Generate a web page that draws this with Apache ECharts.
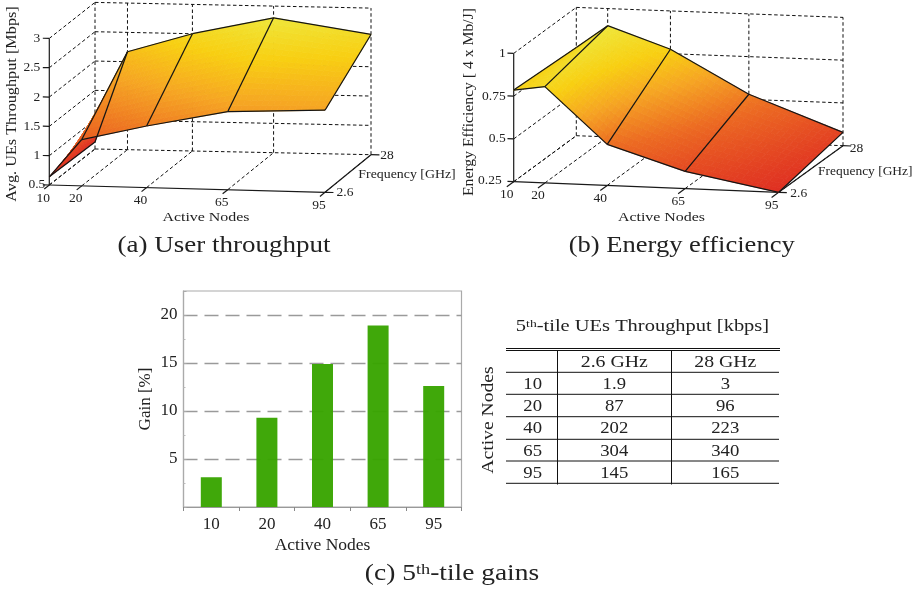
<!DOCTYPE html>
<html><head><meta charset="utf-8">
<style>html,body{margin:0;padding:0;background:#fff}#c{width:917px;height:591px}</style>
<script src="https://cdn.jsdelivr.net/npm/echarts@6/dist/echarts.min.js"></script>
</head><body><div id="c"></div>
<script>
// ---- data ----
const nodes = [10, 20, 40, 65, 95];
const freqs = [2.6, 28];
const throughput26 = [0.64, 1.29, 1.55, 1.83, 1.90];
const throughput28 = [0.62, 2.17, 2.50, 2.80, 2.55];
const efficiency26 = [0.786, 0.813, 0.49, 0.35, 0.25];
const efficiency28 = [0.765, 0.90, 0.776, 0.53, 0.328];
const throughputTicks = [0.5, 1, 1.5, 2, 2.5, 3];
const efficiencyTicks = [0.25, 0.5, 0.75, 1];
const gainCategories = ['10', '20', '40', '65', '95'];
const gainValues = [3.1, 9.3, 14.9, 18.9, 12.6];
const tableNodes = ['10', '20', '40', '65', '95'];
const table26 = ['1.9', '87', '202', '304', '145'];
const table28 = ['3', '96', '223', '340', '165'];
const tableHeader = ['2.6 GHz', '28 GHz'];

// ---- helpers ----
const FONT = '"Liberation Serif", serif';
const INK = '#222';
function txt(text, x, y, size, sx, rot, extra) {
  return {
    type: 'text', x, y, rotation: rot || 0, scaleX: sx || 1, silent: true, z: 50,
    style: Object.assign({ text, x: 0, y: 0, fontFamily: FONT, fontSize: size, fill: INK,
      align: 'center', verticalAlign: 'middle' }, extra || {})
  };
}
function makeProjection(fl, fr, br, bl, height, zMin, zMax) {
  return function (n, f, z) {
    const u = (n - nodes[0]) / (nodes[nodes.length - 1] - nodes[0]);
    const v = (f - freqs[0]) / (freqs[1] - freqs[0]);
    const x = (1 - u) * (1 - v) * fl[0] + u * (1 - v) * fr[0] + u * v * br[0] + (1 - u) * v * bl[0];
    const y = (1 - u) * (1 - v) * fl[1] + u * (1 - v) * fr[1] + u * v * br[1] + (1 - u) * v * bl[1];
    return [x, y - height * (z - zMin) / (zMax - zMin)];
  };
}
const stops = [[0, [223, 47, 34]], [0.35, [236, 106, 34]], [0.6, [246, 166, 35]], [0.8, [248, 207, 18]], [1, [239, 230, 58]]];
function heat(t) {
  t = Math.max(0, Math.min(1, t));
  for (let i = 1; i < stops.length; i++) {
    if (t <= stops[i][0]) {
      const k = (t - stops[i - 1][0]) / (stops[i][0] - stops[i - 1][0]);
      const a = stops[i - 1][1], b = stops[i][1];
      return 'rgb(' + a.map((c, j) => Math.round(c + (b[j] - c) * k)).join(',') + ')';
    }
  }
  return 'rgb(239,230,58)';
}
function surfaceSeries(proj, zFront, zBack, name) {
  const all = zFront.concat(zBack), cMin = Math.min(...all), cMax = Math.max(...all);
  const cells = [];
  for (let i = 0; i < nodes.length - 1; i++) cells.push([nodes[i], nodes[i + 1], zFront[i], zFront[i + 1], zBack[i], zBack[i + 1]]);
  return {
    type: 'custom', name, coordinateSystem: 'none', silent: true, animation: false, z: 3, clip: false,
    data: cells,
    renderItem(params, api) {
      const n0 = api.value(0), n1 = api.value(1), a0 = api.value(2), a1 = api.value(3), b0 = api.value(4), b1 = api.value(5);
      const N = 16, kids = [];
      const at = (s, t) => {
        const n = n0 + (n1 - n0) * s, f = freqs[0] + (freqs[1] - freqs[0]) * t;
        const z = (a0 + (a1 - a0) * s) * (1 - t) + (b0 + (b1 - b0) * s) * t;
        return { p: proj(n, f, z), z };
      };
      for (let i = 0; i < N; i++) for (let j = 0; j < N; j++) {
        const A = at(i / N, j / N), B = at((i + 1) / N, j / N), C = at((i + 1) / N, (j + 1) / N), D = at(i / N, (j + 1) / N);
        const col = heat(((A.z + B.z + C.z + D.z) / 4 - cMin) / (cMax - cMin));
        kids.push({ type: 'polygon', silent: true, shape: { points: [A.p, B.p, C.p, D.p] },
          style: { fill: col, stroke: col, lineWidth: 0.8 } });
      }
      return { type: 'group', children: kids };
    }
  };
}
function segSeries(proj, segs, z, style) {
  return {
    type: 'custom', coordinateSystem: 'none', silent: true, animation: false, z, clip: false,
    data: segs,
    renderItem(params, api) {
      const a = proj(api.value(0), api.value(1), api.value(2)), b = proj(api.value(3), api.value(4), api.value(5));
      return { type: 'line', silent: true, shape: { x1: a[0], y1: a[1], x2: b[0], y2: b[1] }, style };
    }
  };
}
const DASH = { stroke: '#111', lineWidth: 1, lineDash: [3.5, 2.5], fill: null };
const SOLID = { stroke: '#1a1a1a', lineWidth: 1.2, fill: null };
const MESH = { stroke: '#151515', lineWidth: 1.25, fill: null };
function plot3d(proj, zTicks, zFront, zBack, name) {
  const f0 = freqs[0], f1 = freqs[1], n0 = nodes[0], nE = nodes[nodes.length - 1];
  const zMin = zTicks[0], zMax = zTicks[zTicks.length - 1];
  const dashed = [], solid = [], mesh = [];
  nodes.forEach(n => {
    dashed.push([n, f0, zMin, n, f1, zMin]);
    dashed.push([n, f1, zMin, n, f1, zMax]);
    solid.push([n, f0, zMin, n, f0 - 2.8, zMin]);
  });
  zTicks.forEach(z => {
    dashed.push([n0, f0, z, n0, f1, z]);
    dashed.push([n0, f1, z, nE, f1, z]);
    solid.push([n0, f0, z, n0 - 2, f0, z]);
  });
  solid.push([n0, f0, zMin, n0, f0, zMax]);
  solid.push([n0, f0, zMin, nE, f0, zMin]);
  solid.push([nE, f0, zMin, nE, f1, zMin]);
  freqs.forEach(f => solid.push([nE, f, zMin, nE + 2.6, f, zMin]));
  nodes.forEach((n, i) => {
    mesh.push([n, f0, zFront[i], n, f1, zBack[i]]);
    if (i) {
      mesh.push([nodes[i - 1], f0, zFront[i - 1], n, f0, zFront[i]]);
      mesh.push([nodes[i - 1], f1, zBack[i - 1], n, f1, zBack[i]]);
    }
  });
  return [segSeries(proj, dashed, 1, DASH), segSeries(proj, solid, 2, SOLID),
    surfaceSeries(proj, zFront, zBack, name), segSeries(proj, mesh, 4, MESH)];
}
function tickText(proj, zTicks, nodeOff, zDx, zBottomDx, f26Off, f28Off) {
  const out = [], zMin = zTicks[0], TICK = 13.5;
  const nE = nodes[nodes.length - 1];
  zTicks.forEach((z, i) => {
    const p = proj(nodes[0], freqs[0], z);
    out.push(txt(String(z), p[0] + (i ? zDx : zBottomDx), p[1] + (i ? 0 : -1), TICK, 1, 0, { align: 'right' }));
  });
  nodes.forEach(n => {
    const p = proj(n, freqs[0], zMin);
    out.push(txt(String(n), p[0] + nodeOff[0], p[1] + nodeOff[1], TICK));
  });
  const a = proj(nE, freqs[0], zMin), b = proj(nE, freqs[1], zMin);
  out.push(txt(String(freqs[0]), a[0] + f26Off[0], a[1] + f26Off[1], TICK));
  out.push(txt(String(freqs[1]), b[0] + f28Off[0], b[1] + f28Off[1], TICK));
  return out;
}

const projA = makeProjection([49.3, 185], [325, 192.3], [371, 154.7], [95, 149], 146.6, 0.5, 3);
const projB = makeProjection([513.7, 181.7], [778.7, 192.3], [843, 145.7], [576.3, 135.7], 128.3, 0.25, 1);

// ---- table ----
const tbl = [];
const rowLines = [372.3, 394.3, 416.7, 439.3, 461, 483.3];
const rowText = [384.3, 406.7, 429, 451.7, 474];
const colText = [532.7, 614.3, 725.3];
const rule = (x1, y1, x2, y2, w) => ({ type: 'line', silent: true, z: 50, shape: { x1, y1, x2, y2 }, style: { stroke: '#111', lineWidth: w || 1 } });
tbl.push(rule(506, 348.5, 780, 348.5), rule(506, 350.5, 780, 350.5));
rowLines.forEach(y => tbl.push(rule(506, y, 779, y)));
tbl.push(rule(557.5, 351, 557.5, 484.5), rule(671.5, 351, 671.5, 484.5));
tbl.push(txt(tableHeader[0], colText[1], 362.3, 16.5, 1.2), txt(tableHeader[1], colText[2], 362.3, 16.5, 1.2));
tableNodes.forEach((n, i) => {
  tbl.push(txt(n, colText[0], rowText[i], 17, 1.1));
  tbl.push(txt(table26[i], colText[1], rowText[i], 17, 1.1));
  tbl.push(txt(table28[i], colText[2], rowText[i], 17, 1.1));
});
tbl.push(txt('Active Nodes', 488.3, 420, 16.5, 1.19, Math.PI / 2));
tbl.push(txt('5{sup|th}-tile UEs Throughput [kbps]', 642.5, 327, 16.5, 1.24, 0,
  { rich: { sup: { fontFamily: FONT, fontSize: 11, lineHeight: 11, verticalAlign: 'top', fill: INK } } }));

const texts = [
  ...tickText(projA, throughputTicks, [-6, 13], -9, -4, [20, 0], [16, 1]),
  ...tickText(projB, efficiencyTicks, [-7, 13], -8, -12, [20, 1.5], [13.5, 3]),
  txt('Avg. UEs Throughput [Mbps]', 12, 104, 14, 1.16, Math.PI / 2),
  txt('Energy Efficiency [ 4 x Mb/J]', 469, 102, 14, 1.12, Math.PI / 2),
  txt('Active Nodes', 206, 217, 13.5, 1.18),
  txt('Active Nodes', 661.5, 217, 13.5, 1.18),
  txt('Frequency [GHz]', 407, 175, 12, 1.155),
  txt('Frequency [GHz]', 865.3, 172.3, 12, 1.12),
  txt('(a) User throughput', 224, 246, 22.5, 1.2),
  txt('(b) Energy efficiency', 681.7, 246, 22.5, 1.18),
  txt('(c) 5{sup|th}-tile gains', 452, 574, 22.5, 1.22, 0,
    { rich: { sup: { fontFamily: FONT, fontSize: 15, lineHeight: 15, verticalAlign: 'top', fill: INK } } }),
  ...tbl
];

const chart = echarts.init(document.getElementById('c'), null, { renderer: 'canvas' });
chart.setOption({
  animation: false,
  backgroundColor: '#fff',
  grid: { left: 183.5, top: 291, width: 278, height: 216, show: true, borderColor: '#aaa', borderWidth: 1.2, containLabel: false },
  xAxis: {
    type: 'category', data: gainCategories, name: 'Active Nodes', nameLocation: 'middle', nameGap: 29,
    nameTextStyle: { fontFamily: FONT, fontSize: 17.5, color: INK },
    axisLine: { lineStyle: { color: '#999', width: 1.2 } },
    axisTick: { show: true, alignWithLabel: false, length: 4, lineStyle: { color: '#888' } },
    axisLabel: { fontFamily: FONT, fontSize: 17, color: INK, margin: 9 }
  },
  yAxis: {
    type: 'value', min: 0, max: 22.5, interval: 5, name: 'Gain [%]', nameLocation: 'middle', nameGap: 29,
    nameTextStyle: { fontFamily: FONT, fontSize: 17, color: INK },
    axisLine: { show: true, lineStyle: { color: '#aaa', width: 1.2 } },
    axisTick: { show: true, inside: true, length: 3, lineStyle: { color: '#aaa' } },
    minorTick: { show: true, splitNumber: 2, length: 2, lineStyle: { color: '#bbb' } },
    splitLine: { show: true, showMaxLine: false, showMinLine: false, lineStyle: { color: '#9a9a9a', type: [14, 7], width: 1.4 } },
    axisLabel: { fontFamily: FONT, fontSize: 17, color: INK, margin: 6,
      formatter: v => (v > 0 && v % 5 === 0) ? String(v) : '' }
  },
  graphic: { elements: texts },
  series: [
    { type: 'bar', name: 'Gain', data: gainValues, barWidth: 21, z: 1, itemStyle: { color: 'rgba(56,164,0,0.96)' }, silent: true },
    ...plot3d(projA, throughputTicks, throughput26, throughput28, 'User throughput'),
    ...plot3d(projB, efficiencyTicks, efficiency26, efficiency28, 'Energy efficiency')
  ]
});
</script></body></html>
